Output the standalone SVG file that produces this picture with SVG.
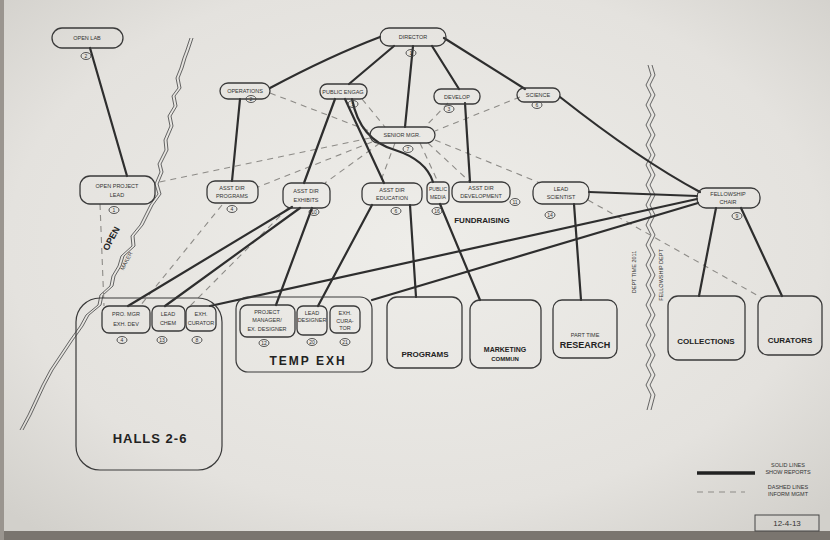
<svg xmlns="http://www.w3.org/2000/svg" width="830" height="540" viewBox="0 0 830 540">
<defs>
<radialGradient id="paper" cx="50%" cy="45%" r="70%">
<stop offset="0" stop-color="#eeede9"/>
<stop offset="0.7" stop-color="#e4e2de"/>
<stop offset="1" stop-color="#d2d0cb"/>
</radialGradient>
<style>
.box{fill:none;stroke:#3a3a3a;stroke-width:1.3}
.big{fill:none;stroke:#3a3a3a;stroke-width:1.2}
.num{fill:none;stroke:#444;stroke-width:0.9}
.solid{fill:none;stroke:#2e2e2e;stroke-width:2.2;stroke-linecap:round}
.dash{fill:none;stroke:#8d8b87;stroke-width:1.1;stroke-dasharray:6 5}
.wave{fill:none;stroke:#555;stroke-width:0.9}
text{font-family:"Liberation Sans",Arial,sans-serif;fill:#333;text-anchor:middle}
.s{font-size:5.5px}
.n{font-size:5px}
.b{font-weight:bold;fill:#222}
</style>
</defs>
<rect width="830" height="540" fill="url(#paper)"/>
<rect x="0" y="531" width="830" height="9" fill="#7a756f"/>
<rect x="0" y="0" width="4" height="540" fill="#9a958f"/>

<!-- wavy boundaries -->
<g id="boundaries">
<path class="wave" d="M190,38 L186,50 L183,58 L180,68 L176,78 L178,88 L172,96 L174,106 L168,116 L170,126 L164,140 L165,150 L158,164 L160,172 L155,184 L158,194 L150,205 L145,215 L140,225 L131,236 L132,246 L121,256 L118,266 L112,276 L110,286 L100,295 L98,305 L86,315 L80,326 L70,340 L60,355 L50,370 L42,385 L35,400 L28,415 L20,430"/>
<path class="wave" d="M193,38 L189,50 L186,58 L183,68 L179,78 L181,88 L175,96 L177,106 L171,116 L173,126 L167,140 L168,150 L161,164 L163,172 L158,184 L161,194 L153,205 L148,215 L143,225 L134,236 L135,246 L124,256 L121,266 L115,276 L113,286 L103,295 L101,305 L89,315 L83,326 L73,340 L63,355 L53,370 L45,385 L38,400 L31,415 L23,430"/>
<path class="wave" d="M648,65 L651,75 L646,85 L651,95 L646,105 L651,115 L646,125 L651,135 L646,145 L651,155 L646,165 L651,175 L646,185 L651,195 L646,205 L651,215 L646,225 L651,235 L646,245 L651,255 L646,265 L651,275 L646,285 L651,295 L646,305 L651,315 L646,325 L651,335 L646,345 L651,355 L646,365 L651,375 L646,385 L651,395 L647,410"/>
<path class="wave" d="M652,65 L655,75 L650,85 L655,95 L650,105 L655,115 L650,125 L655,135 L650,145 L655,155 L650,165 L655,175 L650,185 L655,195 L650,205 L655,215 L650,225 L655,235 L650,245 L655,255 L650,265 L655,275 L650,285 L655,295 L650,305 L655,315 L650,325 L655,335 L650,345 L655,355 L650,365 L655,375 L650,385 L655,395 L651,410"/>
<text class="b" font-size="9" transform="translate(114,240) rotate(-62)">OPEN</text>
<text class="s" transform="translate(128,262) rotate(-62)">MAKER</text>
<text class="s" transform="translate(636,272) rotate(-90)">DEPT TIME 2011</text>
<text class="s" transform="translate(663,275) rotate(-90)">FELLOWSHIP DEPT</text>
</g>

<!-- connectors -->
<g id="connectors">
<path class="dash" d="M270,93 L372,132"/>
<path class="dash" d="M362,99 L385,127"/>
<path class="dash" d="M448,103 L425,127"/>
<path class="dash" d="M520,97 L435,131"/>
<path class="dash" d="M370,138 L155,183"/>
<path class="dash" d="M372,142 L258,187"/>
<path class="dash" d="M380,143 L325,183"/>
<path class="dash" d="M395,143 L380,183"/>
<path class="dash" d="M420,143 L438,182"/>
<path class="dash" d="M428,143 L470,182"/>
<path class="dash" d="M435,140 L540,183"/>
<path class="dash" d="M588,200 L762,298"/>
<path class="dash" d="M100,204 L104,306"/>
<path class="dash" d="M222,205 L140,306"/>
<path class="dash" d="M288,208 L190,306"/>

<path class="solid" d="M90,48 L127,176"/>
<path class="solid" d="M380,37 Q330,56 270,88"/>
<path class="solid" d="M394,46 L349,84"/>
<path class="solid" d="M413,46 L405,127"/>
<path class="solid" d="M432,46 L459,89"/>
<path class="solid" d="M444,38 L525,89"/>
<path class="solid" d="M560,97 Q640,160 700,192"/>
<path class="solid" d="M240,99 L232,181"/>
<path class="solid" d="M335,99 L304,183"/>
<path class="solid" d="M345,99 L384,183"/>
<path class="solid" d="M352,99 Q360,140 395,150 Q426,160 433,182"/>
<path class="solid" d="M465,103 L470,182"/>
<path class="solid" d="M410,205 L416,297"/>
<path class="solid" d="M440,204 L480,300"/>
<path class="solid" d="M574,204 L581,300"/>
<path class="solid" d="M589,192 L697,196"/>
<path class="solid" d="M716,208 L699,296"/>
<path class="solid" d="M741,208 L782,296"/>
<path class="solid" d="M292,207 L128,306"/>
<path class="solid" d="M300,208 L165,306"/>
<path class="solid" d="M312,208 L276,305"/>
<path class="solid" d="M372,205 L318,306"/>
<path class="solid" d="M697,199 L210,306"/>
<path class="solid" d="M698,203 L372,300"/>
</g>

<!-- top nodes -->
<g id="open-lab"><rect class="box" x="52" y="28" width="71" height="20" rx="10" fill="#e9e8e4"/><text class="s" x="87" y="40">OPEN LAB</text><ellipse class="num" cx="86" cy="56" rx="5" ry="3.5"/><text class="n" x="86" y="57.8">2</text></g>
<g id="director"><rect class="box" x="380" y="28" width="66" height="18" rx="9" fill="#eceae6"/><text class="s" x="413" y="39">DIRECTOR</text><ellipse class="num" cx="411" cy="53" rx="5" ry="3.5"/><text class="n" x="411" y="54.8">1</text></g>
<g id="operations"><rect class="box" x="220" y="83" width="50" height="16" rx="8" fill="#eceae6"/><text class="s" x="245" y="93">OPERATIONS</text><ellipse class="num" cx="251" cy="99" rx="5" ry="3.5"/><text class="n" x="251" y="100.8">2</text></g>
<g id="public-engag"><rect class="box" x="320" y="84" width="47" height="15" rx="7" fill="#eceae6"/><text class="s" x="343" y="93.5">PUBLIC ENGAG</text><ellipse class="num" cx="353" cy="104" rx="5" ry="3.5"/><text class="n" x="353" y="105.8">5</text></g>
<g id="develop"><rect class="box" x="434" y="89" width="46" height="15" rx="7" fill="#eceae6"/><text class="s" x="457" y="98.5">DEVELOP</text><ellipse class="num" cx="449" cy="109" rx="5" ry="3.5"/><text class="n" x="449" y="110.8">3</text></g>
<g id="science"><rect class="box" x="517" y="88" width="43" height="14" rx="7" fill="#eceae6"/><text class="s" x="538" y="97">SCIENCE</text><ellipse class="num" cx="537" cy="105" rx="5" ry="3.5"/><text class="n" x="537" y="106.8">6</text></g>
<g id="senior-mgr"><rect class="box" x="370" y="127" width="65" height="16" rx="8" fill="#eceae6"/><text class="s" x="402" y="137">SENIOR MGR.</text><ellipse class="num" cx="408" cy="149" rx="5" ry="3.5"/><text class="n" x="408" y="150.8">7</text></g>

<!-- middle nodes -->
<g id="open-project-lead"><rect class="box" x="80" y="176" width="75" height="28" rx="10" fill="#eceae6"/><text class="s" x="117" y="188">OPEN PROJECT</text><text class="s" x="117" y="197">LEAD</text><ellipse class="num" cx="114" cy="210" rx="5" ry="3.5"/><text class="n" x="114" y="211.8">1</text></g>
<g id="asst-programs"><rect class="box" x="207" y="181" width="51" height="22" rx="8" fill="#eceae6"/><text class="s" x="232" y="190">ASST DIR</text><text class="s" x="232" y="198">PROGRAMS</text><ellipse class="num" cx="232" cy="209" rx="5" ry="3.5"/><text class="n" x="232" y="210.8">4</text></g>
<g id="asst-exhibits"><rect class="box" x="283" y="183" width="47" height="25" rx="8" fill="#eceae6"/><text class="s" x="306" y="193">ASST DIR</text><text class="s" x="306" y="202">EXHIBITS</text><ellipse class="num" cx="314" cy="212" rx="5" ry="3.5"/><text class="n" x="314" y="213.8">10</text></g>
<g id="asst-education"><rect class="box" x="362" y="183" width="60" height="22" rx="8" fill="#eceae6"/><text class="s" x="392" y="192">ASST DIR</text><text class="s" x="392" y="200">EDUCATION</text><ellipse class="num" cx="396" cy="211" rx="5" ry="3.5"/><text class="n" x="396" y="212.8">6</text></g>
<g id="public-media"><rect class="box" x="427" y="182" width="22" height="22" rx="5" fill="#eceae6"/><text class="n" x="438" y="191">PUBLIC</text><text class="n" x="438" y="199">MEDIA</text><ellipse class="num" cx="437" cy="211" rx="5" ry="3.5"/><text class="n" x="437" y="212.8">16</text></g>
<g id="asst-development"><rect class="box" x="452" y="182" width="58" height="20" rx="8" fill="#eceae6"/><text class="s" x="481" y="190">ASST DIR</text><text class="s" x="481" y="198">DEVELOPMENT</text><ellipse class="num" cx="515" cy="202" rx="5" ry="3.5"/><text class="n" x="515" y="203.8">11</text><text class="b" font-size="8" x="482" y="223">FUNDRAISING</text></g>
<g id="lead-scientist"><rect class="box" x="533" y="182" width="56" height="22" rx="9" fill="#eceae6"/><text class="s" x="561" y="191">LEAD</text><text class="s" x="561" y="199">SCIENTIST</text><ellipse class="num" cx="550" cy="215" rx="5" ry="3.5"/><text class="n" x="550" y="216.8">14</text></g>
<g id="fellowship-chair"><rect class="box" x="697" y="188" width="63" height="20" rx="9" fill="#eceae6"/><text class="s" x="728" y="196">FELLOWSHIP</text><text class="s" x="728" y="204">CHAIR</text><ellipse class="num" cx="737" cy="216" rx="5" ry="3.5"/><text class="n" x="737" y="217.8">9</text></g>

<!-- bottom nodes -->
<g id="halls"><rect class="big" x="76" y="298" width="146" height="172" rx="24"/><text class="b" font-size="13" letter-spacing="1" x="150" y="443">HALLS 2-6</text></g>
<g id="pro-mgr"><rect class="box" x="102" y="306" width="48" height="27" rx="7" fill="#eceae6"/><text class="s" x="126" y="316">PRO. MGR</text><text class="s" x="126" y="326">EXH. DEV</text><ellipse class="num" cx="122" cy="340" rx="5" ry="3.5"/><text class="n" x="122" y="341.8">4</text></g>
<g id="lead-chem"><rect class="box" x="152" y="306" width="33" height="25" rx="6" fill="#eceae6"/><text class="s" x="168" y="316">LEAD</text><text class="s" x="168" y="325">CHEM</text><ellipse class="num" cx="162" cy="340" rx="5" ry="3.5"/><text class="n" x="162" y="341.8">13</text></g>
<g id="exh-curator-1"><rect class="box" x="186" y="306" width="30" height="25" rx="6" fill="#eceae6"/><text class="s" x="201" y="316">EXH.</text><text class="s" x="201" y="325">CURATOR</text><ellipse class="num" cx="197" cy="340" rx="5" ry="3.5"/><text class="n" x="197" y="341.8">8</text></g>
<g id="temp-exh"><rect class="big" x="236" y="297" width="136" height="75" rx="12"/><text class="b" font-size="12" letter-spacing="2" x="308" y="365">TEMP EXH</text></g>
<g id="proj-manager"><rect class="box" x="240" y="305" width="55" height="32" rx="7" fill="#eceae6"/><text class="s" x="267" y="314">PROJECT</text><text class="s" x="267" y="322">MANAGER/</text><text class="s" x="267" y="331">EX. DESIGNER</text><ellipse class="num" cx="264" cy="343" rx="5" ry="3.5"/><text class="n" x="264" y="344.8">12</text></g>
<g id="lead-designer"><rect class="box" x="297" y="306" width="30" height="29" rx="6" fill="#eceae6"/><text class="s" x="312" y="315">LEAD</text><text class="s" x="312" y="322">DESIGNER</text><ellipse class="num" cx="312" cy="342" rx="5" ry="3.5"/><text class="n" x="312" y="343.8">20</text></g>
<g id="exh-curator-2"><rect class="box" x="330" y="306" width="30" height="27" rx="6" fill="#eceae6"/><text class="s" x="345" y="315">EXH.</text><text class="s" x="345" y="323">CURA-</text><text class="s" x="345" y="330">TOR</text><ellipse class="num" cx="345" cy="342" rx="5" ry="3.5"/><text class="n" x="345" y="343.8">21</text></g>
<g id="programs"><rect class="box" x="387" y="297" width="75" height="71" rx="10" fill="#ebe9e5"/><text class="b" font-size="8" x="425" y="357">PROGRAMS</text></g>
<g id="marketing"><rect class="box" x="470" y="300" width="71" height="68" rx="10" fill="#ebe9e5"/><text class="b" font-size="7" x="505" y="352">MARKETING</text><text class="b" font-size="6" x="505" y="361">COMMUN</text></g>
<g id="research"><rect class="box" x="553" y="300" width="64" height="58" rx="9" fill="#ebe9e5"/><text class="s" x="585" y="337">PART TIME</text><text class="b" font-size="9" x="585" y="348">RESEARCH</text></g>
<g id="collections"><rect class="box" x="668" y="296" width="77" height="64" rx="10" fill="#ebe9e5"/><text class="b" font-size="8" x="706" y="344">COLLECTIONS</text></g>
<g id="curators"><rect class="box" x="758" y="296" width="64" height="59" rx="10" fill="#ebe9e5"/><text class="b" font-size="8" x="790" y="343">CURATORS</text></g>

<!-- legend -->
<g id="legend">
<line x1="697" y1="473" x2="755" y2="473" stroke="#222" stroke-width="3.5"/>
<text class="s" x="788" y="467">SOLID LINES</text>
<text class="s" x="788" y="474">SHOW REPORTS</text>
<line x1="697" y1="492" x2="745" y2="492" class="dash" stroke-dasharray="5 3"/>
<text class="s" x="788" y="489">DASHED LINES</text>
<text class="s" x="788" y="496">INFORM MGMT</text>
<rect x="755" y="515" width="64" height="16" fill="none" stroke="#444" stroke-width="1"/>
<text font-size="8" x="787" y="526">12-4-13</text>
</g>
</svg>
